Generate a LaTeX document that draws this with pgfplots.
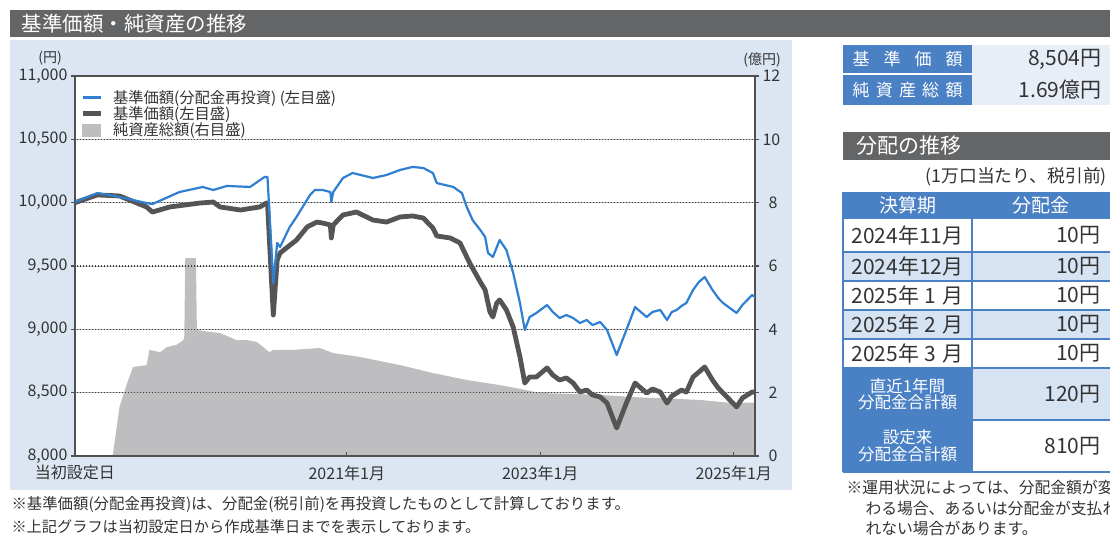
\documentclass[border=0pt]{standalone}
\usepackage{fontspec}
\setmainfont{Noto Sans CJK JP}
\usepackage{pgfplots}
\pgfplotsset{compat=1.18}

\definecolor{hdrgray}{HTML}{646567}
\definecolor{panelblue}{HTML}{DCE6F2}
\definecolor{navblue}{HTML}{2F80D0}
\definecolor{navdark}{HTML}{555555}
\definecolor{aumgray}{HTML}{BEBEC0}
\definecolor{tblblue}{HTML}{4A80C4}
\definecolor{tbllight}{HTML}{D6E3F3}
\definecolor{txtgray}{HTML}{333333}
\definecolor{framegray}{HTML}{505050}

\newcommand{\fs}[1]{\fontsize{#1}{#1}\selectfont}
\newcommand{\mon}[1]{\makebox[1.1em][c]{#1}}

\begin{document}
\begin{tikzpicture}[x=1pt,y=1pt]
\useasboundingbox (0,0) rectangle (1110,538);
\clip (0,0) rectangle (1110,538);
\fill[white] (0,0) rectangle (1110,538);

% title bar
\fill[hdrgray] (10,501) rectangle (1110,528);
\node[anchor=west, white, font=\fs{20.5}] at (18,514.5) {基準価額・純資産の推移};

% chart panel
\fill[panelblue] (10,48) rectangle (792,498);
\fill[white] (75,82) rectangle (755,462);
\node[font=\fs{14}, txtgray] at (50,480) {(円)};
\node[font=\fs{14}, txtgray] at (762,478) {(億円)};

% net assets, right scale (100 million yen)
\begin{axis}[at={(75pt,82pt)}, anchor=south west, scale only axis,
  width=680pt, height=380pt,
  xmin=2018.19, xmax=2025.22, ymin=0, ymax=12,
  axis x line=none, axis y line*=right,
  ytick={0,2,...,12},
  ytick align=outside, major tick length=4pt,
  axis line style={line width=1.5pt, draw=framegray},
  tick style={line width=1.2pt, draw=framegray},
  yticklabel style={font=\fs{16}, text=txtgray, text width=15pt, align=right},
  /pgf/number format/assume math mode=true,
]
\addplot[fill=aumgray, draw=none] coordinates {
(2018.58,0)(2018.65,1.55)(2018.73,2.31)(2018.79,2.81)(2018.93,2.87)(2018.96,3.35)
(2019.07,3.28)(2019.14,3.44)(2019.24,3.51)(2019.31,3.66)(2019.32,3.76)(2019.33,6.25)
(2019.44,6.25)(2019.45,3.98)(2019.58,3.92)(2019.69,3.88)(2019.86,3.66)(2019.97,3.66)
(2020.07,3.60)(2020.20,3.28)(2020.24,3.35)(2020.44,3.35)(2020.72,3.41)(2020.86,3.25)
(2021.13,3.13)(2021.55,2.87)(2021.89,2.62)(2022.24,2.40)(2022.58,2.24)(2022.79,2.12)
(2023.00,1.99)(2023.62,1.93)(2023.96,1.86)(2024.65,1.77)(2024.99,1.67)(2025.22,1.69)
} \closedcycle;
\end{axis}

% dotted horizontal guides, over the net assets area
\foreach \gy in {145.33,208.67,272,335.33,398.67} {
  \draw[black!30, line width=0.9pt] (75,\gy) -- (755,\gy);
  \foreach \gx in {77,80,...,752}
    \fill[black!75] (\gx,\gy-0.7) rectangle ++(1.4,1.4);
}

% NAV, left scale (yen)
\begin{axis}[at={(75pt,82pt)}, anchor=south west, scale only axis,
  width=680pt, height=380pt,
  xmin=2018.19, xmax=2025.22, ymin=8000, ymax=11000,
  ytick={8000,8500,...,11000}, scaled y ticks=false,
  xtick={2018.19,2021,2023,2025},
  xticklabels={当初設定日,2021年1月,2023年1月,2025年1月},
  xtick pos=left, ytick pos=left,
  xtick align=inside, ytick align=outside, major tick length=4pt,
  axis line style={line width=1.5pt, draw=framegray},
  tick style={line width=1.2pt, draw=framegray},
  yticklabel style={font=\fs{16}, text=txtgray},
  xticklabel style={font=\fs{16}, text=txtgray},
  xticklabel shift=6pt,
  /pgf/number format/assume math mode=true,
  legend style={at={(0,1)}, anchor=north west, draw=none, fill=none,
    font=\fs{15.3}, text=txtgray, row sep=-2pt, inner xsep=5pt, inner ysep=12pt},
  legend cell align=left,
  legend image code/.code={\path (0pt,0pt) (26pt,0pt);
    \draw[#1] (0pt,0pt) -- (18pt,0pt);},
]
\addlegendimage{navblue, line width=2.2pt}
\addlegendentry{基準価額(分配金再投資) (左目盛)}
\addlegendimage{navdark, line width=4.8pt}
\addlegendentry{基準価額(左目盛)}
\addlegendimage{legend image code/.code={\path (0pt,0pt) (26pt,0pt);
    \fill[aumgray] (0pt,-6pt) rectangle (18pt,6pt);}}
\addlegendentry{純資産総額(右目盛)}

\addplot[navdark, line width=4.8pt, line join=round, forget plot] coordinates {
(2018.19,10000)(2018.42,10061)(2018.65,10053)(2018.93,9966)(2018.99,9926)(2019.17,9966)
(2019.48,9997)(2019.62,10005)(2019.69,9966)(2019.90,9942)(2020.10,9966)(2020.17,9997)
(2020.18,9997)(2020.24,9113)(2020.28,9547)(2020.31,9603)(2020.48,9705)(2020.59,9808)
(2020.69,9847)(2020.75,9839)(2020.83,9824)(2020.84,9721)(2020.86,9824)(2020.96,9903)
(2021.10,9926)(2021.27,9863)(2021.41,9847)(2021.55,9887)(2021.68,9895)(2021.79,9879)
(2021.89,9800)(2021.93,9737)(2022.07,9721)(2022.17,9682)(2022.22,9603)(2022.27,9524)
(2022.38,9374)(2022.43,9311)(2022.48,9137)(2022.51,9097)(2022.55,9208)(2022.58,9232)
(2022.65,9153)(2022.72,9018)(2022.79,8782)(2022.84,8576)(2022.89,8624)(2022.96,8624)
(2023.07,8695)(2023.13,8639)(2023.20,8600)(2023.27,8616)(2023.34,8576)(2023.41,8505)
(2023.48,8521)(2023.54,8482)(2023.62,8466)(2023.69,8418)(2023.79,8221)(2023.89,8418)
(2023.98,8576)(2024.10,8497)(2024.16,8529)(2024.24,8505)(2024.31,8418)(2024.36,8474)
(2024.41,8497)(2024.46,8521)(2024.51,8505)(2024.58,8624)(2024.64,8663)(2024.70,8703)
(2024.78,8600)(2024.84,8537)(2024.89,8497)(2024.96,8442)(2025.03,8387)(2025.09,8458)
(2025.19,8505)(2025.22,8504)
};
\addplot[navblue, line width=2.2pt, line join=round, forget plot] coordinates {
(2018.19,10005)(2018.42,10076)(2018.65,10045)(2018.93,9997)(2018.99,9989)(2019.27,10084)
(2019.51,10124)(2019.62,10100)(2019.76,10132)(2020.00,10124)(2020.15,10203)(2020.18,10203)
(2020.24,9366)(2020.28,9682)(2020.31,9650)(2020.41,9808)(2020.48,9887)(2020.62,10061)
(2020.67,10100)(2020.75,10100)(2020.83,10084)(2020.84,10005)(2020.86,10084)(2020.96,10195)
(2021.06,10234)(2021.27,10195)(2021.41,10218)(2021.55,10258)(2021.68,10282)(2021.79,10274)
(2021.89,10234)(2021.93,10155)(2022.10,10124)(2022.19,10076)(2022.24,9966)(2022.30,9863)
(2022.38,9784)(2022.43,9729)(2022.46,9603)(2022.51,9571)(2022.58,9705)(2022.65,9626)
(2022.72,9445)(2022.79,9208)(2022.84,8995)(2022.89,9097)(2022.96,9129)(2023.07,9192)
(2023.13,9137)(2023.20,9089)(2023.27,9113)(2023.34,9089)(2023.41,9050)(2023.48,9074)
(2023.54,9034)(2023.62,9058)(2023.69,8995)(2023.79,8797)(2023.89,8995)(2023.98,9176)
(2024.10,9097)(2024.16,9137)(2024.24,9153)(2024.31,9074)(2024.36,9137)(2024.41,9153)
(2024.46,9184)(2024.51,9208)(2024.58,9311)(2024.64,9374)(2024.70,9413)(2024.78,9311)
(2024.84,9247)(2024.89,9208)(2024.96,9168)(2025.03,9129)(2025.09,9192)(2025.19,9271)
(2025.22,9255)
};
\end{axis}

% footnotes under the chart
\node[anchor=west, font=\fs{15.4}, text=txtgray] at (8,33)
  {※基準価額(分配金再投資)は、分配金(税引前)を再投資したものとして計算しております。};
\node[anchor=west, font=\fs{15.2}, text=txtgray] at (8,11)
  {※上記グラフは当初設定日から作成基準日までを表示しております。};

% summary box
\fill[tbllight!60] (972,433) rectangle (1110,493);
\fill[tblblue] (843,465) rectangle (972,493);
\fill[tblblue] (843,433) rectangle (972,463);
\node[white, font=\fs{17}] at (907.5,479) {\makebox[110pt][s]{基\hfill 準\hfill 価\hfill 額}};
\node[white, font=\fs{17}] at (907.5,448) {\makebox[110pt][s]{純\hfill 資\hfill 産\hfill 総\hfill 額}};
\node[anchor=east, font=\fs{21}, text=txtgray] at (1105,479) {8,504円};
\node[anchor=east, font=\fs{21}, text=txtgray] at (1105,448) {1.69億円};

% distribution history
\fill[hdrgray] (843,378) rectangle (1110,406);
\node[anchor=west, white, font=\fs{21}] at (853,392) {分配の推移};
\node[anchor=west, font=\fs{17.8}, text=txtgray] at (922,361) {(1万口当たり、税引前)};

\fill[tblblue] (843,320) rectangle (1110,346);
\fill[tbllight] (843,257) rectangle (1110,286);
\fill[tbllight] (843,199) rectangle (1110,228);
\fill[tbllight] (972,118) rectangle (1110,170);
\fill[tblblue] (843,66) rectangle (972,170);
\foreach \yy in {320,286,257,228,199,170,118,66}
  \draw[tblblue, line width=1.5pt] (843,\yy) -- (1110,\yy);
\draw[tblblue, line width=1.5pt] (972,66) -- (972,346);
\draw[tblblue, line width=1.5pt] (843,66) -- (843,346);

\node[white, font=\fs{19}] at (907.5,333) {決算期};
\node[white, font=\fs{19}] at (1041,333) {分配金};
\foreach \yy/\lab in {303/{2024年11月}, 271.5/{2024年12月}, 242.5/{2025年\mon{1}月},
                      213.5/{2025年\mon{2}月}, 184.5/{2025年\mon{3}月}} {
  \node[font=\fs{21}, text=txtgray] at (907.5,\yy) {\lab};
  \node[anchor=east, font=\fs{21}, text=txtgray] at (1104,\yy) {10円};
}
\node[white, font=\fs{16.5}, align=center] at (907.5,144) {直近1年間\\分配金合計額};
\node[white, font=\fs{16.5}, align=center] at (907.5,92) {設定来\\分配金合計額};
\node[anchor=east, font=\fs{21}, text=txtgray] at (1104,144) {120円};
\node[anchor=east, font=\fs{21}, text=txtgray] at (1104,92) {810円};

\node[anchor=west, font=\fs{15.8}, text=txtgray] at (843,51) {※運用状況によっては、分配金額が変};
\node[anchor=west, font=\fs{15.8}, text=txtgray] at (862,30) {わる場合、あるいは分配金が支払わ};
\node[anchor=west, font=\fs{15.8}, text=txtgray] at (862,10) {れない場合があります。};
\end{tikzpicture}
\end{document}
